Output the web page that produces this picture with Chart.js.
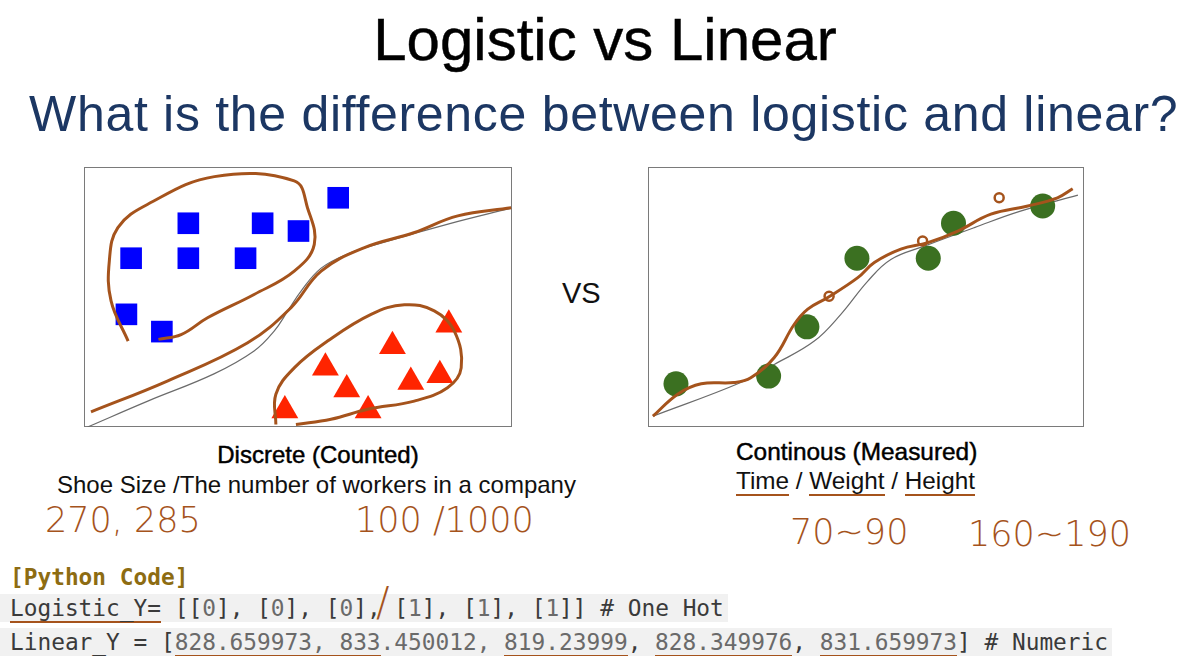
<!DOCTYPE html>
<html>
<head>
<meta charset="utf-8">
<script src="https://cdn.jsdelivr.net/npm/chart.js@4/dist/chart.umd.min.js"></script>
<style>
  html, body { margin: 0; padding: 0; background: #fff; }
  #page { position: relative; width: 1183px; height: 656px; overflow: hidden; font-family: "Liberation Sans", Arial, sans-serif; }
  .t { position: absolute; white-space: nowrap; line-height: 1; }
  .box { position: absolute; border: 1px solid #7a7a7a; box-sizing: border-box; }
  .box canvas { position: absolute; left: 0; top: 0; }
  .hand { position: absolute; white-space: nowrap; line-height: 1; color: #a5531c; font-family: "DejaVu Sans", sans-serif; font-weight: 200; }
  .code { position: absolute; left: 0; height: 28px; line-height: 28px; font-family: "DejaVu Sans Mono", monospace; font-size: 22.8px; color: #3a3a3a; white-space: pre; padding-left: 10px; padding-right: 4px; background: #f1f1f1; }
  .num { color: #6a6a6a; }
  .ul { border-bottom: 2px solid #a5531c; }
  .med { -webkit-text-stroke: 0.45px #000; }
</style>
</head>
<body>
<div id="page">
  <div class="t med" style="left:0;width:1210px;text-align:center;top:10px;font-size:60px;color:#000;">Logistic vs Linear</div>
  <div class="t" style="left:29px;top:89px;font-size:50px;letter-spacing:0.7px;color:#1c3763;">What is the difference between logistic and linear?</div>

  <div class="box" style="left:84px;top:167px;width:428px;height:260px;"><canvas id="discreteChart" width="427" height="259"></canvas></div>
  <div class="box" style="left:648px;top:167px;width:436px;height:260px;"><canvas id="continuousChart" width="435" height="259"></canvas></div>

  <div class="t" style="left:562px;top:279px;font-size:29px;color:#111;">VS</div>

  <div class="t med" style="left:0;width:636px;text-align:center;top:443px;font-size:24px;color:#000;">Discrete (Counted)</div>
  <div class="t" style="left:57px;top:473px;font-size:24px;color:#111;">Shoe Size /The number of workers in a company</div>
  <div class="t med" style="left:736px;top:440px;font-size:24.4px;color:#000;">Continous (Measured)</div>
  <div class="t" style="left:736px;top:469px;font-size:24.3px;color:#111;"><span class="ul">Time</span> / <span class="ul">Weight</span> / <span class="ul">Height</span></div>

  <div class="hand" style="left:45px;top:503px;font-size:35px;">270, 285</div>
  <div class="hand" style="left:355px;top:503px;font-size:35px;">100 /1000</div>
  <div class="hand" style="left:790px;top:515px;font-size:35px;">70~90</div>
  <div class="hand" style="left:968px;top:517px;font-size:35px;">160~190</div>

  <div class="t" style="left:10px;top:563px;height:28px;line-height:28px;font-family:'DejaVu Sans Mono',monospace;font-size:22.8px;font-weight:bold;color:#8d6c12;">[Python Code]</div>
  <div class="code" style="top:594px;"><span class="ul">Logistic_Y=</span> [[<span class="num">0</span>], [<span class="num">0</span>], [<span class="num">0</span>], [<span class="num">1</span>], [<span class="num">1</span>], [<span class="num">1</span>]] # One Hot</div>
  <div class="code" style="top:628px;">Linear_Y = [<span class="num ul">828.659973, 833</span><span class="num">.450012, </span><span class="num ul">819.23999</span>, <span class="num ul">828.349976</span>, <span class="num ul">831.659973</span>] # Numeric</div>
  <div class="hand" style="left:376px;top:582px;font-size:40px;">/</div>
</div>

<script>
// Discrete panel (x 0..10, y 0..6)
const blueSquares = [[5.93, 5.31], [2.42, 4.72], [4.16, 4.72], [5.00, 4.54], [1.08, 3.91],
  [2.42, 3.91], [3.76, 3.91], [0.97, 2.61], [1.80, 2.21]];
const redTriangles = [[8.52, 2.37], [7.20, 1.87], [5.63, 1.37], [7.63, 1.04], [8.31, 1.20],
  [6.13, 0.87], [4.68, 0.38], [6.63, 0.38]];
const logisticCurve = [[0.06, 0.0], [1.47, 0.60], [3.02, 1.23], [3.96, 1.76], [4.43, 2.22],
  [4.75, 2.69], [5.06, 3.15], [5.53, 3.68], [6.16, 4.01], [6.93, 4.26], [8.50, 4.70], [9.98, 5.07]];
const drawnBoundary = [[0.14, 0.35], [1.94, 1.07], [3.81, 1.95], [4.82, 2.76], [5.53, 3.61],
  [6.53, 4.15], [7.70, 4.50], [8.73, 4.89], [9.98, 5.08]];
const drawnBlueLoop = [[1.01, 1.99], [0.61, 2.92], [0.57, 3.85], [0.77, 4.62], [1.47, 5.16],
  [3.03, 5.80], [4.90, 5.70], [5.21, 5.08], [5.37, 4.23], [4.90, 3.61], [3.96, 3.07],
  [2.87, 2.53], [2.25, 2.14], [1.72, 2.03]];
const drawnRedLoop = [[4.47, 0.06], [4.47, 0.76], [4.90, 1.37], [5.68, 1.99], [6.70, 2.61],
  [7.48, 2.83], [8.18, 2.69], [8.65, 2.22], [8.81, 1.37], [8.49, 0.91], [7.71, 0.60],
  [6.62, 0.41], [5.76, 0.18], [4.94, 0.06]];

// Continuous panel (x 0..10, y 0..6)
const greenPoints = [[0.62, 1.00], [2.75, 1.18], [3.63, 2.32], [4.78, 3.91], [6.42, 3.91],
  [7.00, 4.72], [9.05, 5.12]];
const sigmoidCurve = [[0.09, 0.25], [2.11, 1.03], [2.88, 1.45], [3.80, 1.99], [4.41, 2.61],
  [5.03, 3.38], [5.56, 3.88], [6.33, 4.19], [7.48, 4.62], [8.54, 5.00], [9.86, 5.37]];
const drawnFit = [[0.09, 0.25], [0.66, 0.76], [1.20, 1.00], [1.96, 1.03], [2.34, 1.14],
  [2.88, 1.61], [3.34, 2.38], [3.65, 2.73], [4.11, 3.00], [4.80, 3.46], [5.18, 3.81],
  [5.79, 4.12], [6.41, 4.27], [7.10, 4.54], [7.86, 4.93], [8.71, 5.12], [9.39, 5.31], [9.74, 5.52]];
const drawnMarks = [[4.14, 3.03], [6.29, 4.31], [8.05, 5.31]];

const BROWN = '#a5531c';
const toXY = arr => arr.map(p => ({ x: p[0], y: p[1] }));

function lineSet(points, color, width, order) {
  return {
    data: toXY(points), showLine: true, borderColor: color, borderWidth: width,
    pointRadius: 0, tension: 0.4, fill: false, order: order
  };
}

function panelOptions() {
  return {
    responsive: false,
    animation: false,
    events: [],
    clip: false,
    layout: { padding: 0, autoPadding: false },
    plugins: { legend: { display: false }, tooltip: { enabled: false } },
    scales: {
      x: { type: 'linear', min: 0, max: 10, display: false },
      y: { type: 'linear', min: 0, max: 6, display: false }
    }
  };
}

new Chart(document.getElementById('discreteChart').getContext('2d'), {
  type: 'scatter',
  data: {
    datasets: [
      lineSet(drawnBoundary, BROWN, 3, 0),
      lineSet(drawnBlueLoop, BROWN, 3, 0),
      lineSet(drawnRedLoop, BROWN, 3, 0),
      {
        data: toXY(blueSquares), pointStyle: 'rect', pointRadius: 15.3,
        backgroundColor: '#0000ff', borderWidth: 0, order: 1
      },
      {
        data: toXY(redTriangles), pointStyle: 'triangle', pointRadius: 15.5,
        backgroundColor: '#ff2400', borderWidth: 0, order: 1
      },
      lineSet(logisticCurve, '#6b6b6b', 1.2, 2)
    ]
  },
  options: panelOptions()
});

new Chart(document.getElementById('continuousChart').getContext('2d'), {
  type: 'scatter',
  data: {
    datasets: [
      lineSet(drawnFit, BROWN, 3, 0),
      {
        data: toXY(drawnMarks), pointStyle: 'circle', pointRadius: 4.5,
        backgroundColor: 'rgba(0,0,0,0)', borderColor: BROWN, borderWidth: 2.5, order: 0
      },
      {
        data: toXY(greenPoints), pointStyle: 'circle', pointRadius: 12.5,
        backgroundColor: '#3b7021', borderWidth: 0, order: 1
      },
      lineSet(sigmoidCurve, '#6b6b6b', 1.2, 2)
    ]
  },
  options: panelOptions()
});
</script>
</body>
</html>
